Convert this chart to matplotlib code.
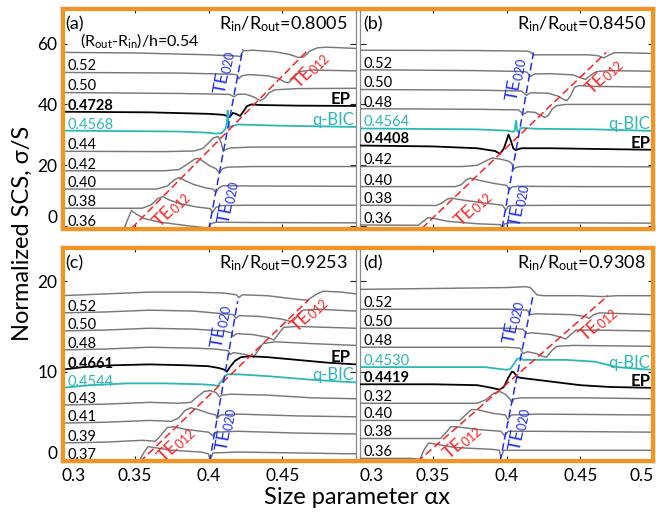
## Normalized SCS of stacked resonators, four panels (a)-(d)
import matplotlib
matplotlib.use('Agg')
import matplotlib.pyplot as plt
from matplotlib.patches import Rectangle
import numpy as np

plt.rcParams['font.family'] = ['Lato', 'DejaVu Sans']
plt.rcParams['mathtext.default'] = 'regular'

## ---------------- data ----------------
x_ticks = [0.3, 0.35, 0.4, 0.45, 0.5]
x_ticklabels_c = ['0.3', '0.35', '0.4', '0.45', '']
x_ticklabels_d = ['0.3', '0.35', '0.4', '0.45', '0.5']
y_ticks_top = [0, 20, 40, 60]
y_ticks_bottom = [0, 10, 20]

a_ratio = '0.8005'
a_note = r'(R$_{out}$-R$_{in}$)/h=0.54'
a_labels = [None, '0.52', '0.50', '0.4728', '0.4568', '0.44', '0.42', '0.40', '0.38', '0.36']
a_ep, a_bic = '0.4728', '0.4568'
a_curves = [
    [(0.300, 57.1), (0.350, 56.9), (0.400, 56.3), (0.419, 55.9), (0.4215, 55.7), (0.4235, 57.6), (0.430, 57.8), (0.445, 57.3), (0.455, 56.4), (0.461, 55.4), (0.4645, 55.6), (0.469, 57.6), (0.474, 58.6), (0.480, 58.8), (0.500, 58.4)],
    [(0.300, 50.5), (0.380, 50.3), (0.417, 49.9), (0.4195, 49.6), (0.4205, 48.4), (0.4225, 49.4), (0.428, 49.8), (0.440, 49.4), (0.447, 48.6), (0.452, 47.3), (0.4545, 47.2), (0.458, 49.0), (0.462, 50.8), (0.470, 51.3), (0.500, 51.0)],
    [(0.300, 43.9), (0.380, 43.6), (0.414, 43.3), (0.4175, 42.5), (0.4195, 43.3), (0.425, 43.4), (0.431, 42.4), (0.435, 41.2), (0.438, 42.0), (0.441, 43.8), (0.445, 44.8), (0.460, 45.2), (0.500, 45.3)],
    [(0.300, 37.6), (0.360, 37.4), (0.400, 36.9), (0.410, 36.6), (0.4145, 35.9), (0.4165, 37.2), (0.4185, 36.9), (0.4215, 36.2), (0.4235, 37.6), (0.426, 39.4), (0.429, 40.0), (0.435, 39.8), (0.460, 39.6), (0.500, 39.5)],
    [(0.300, 31.4), (0.380, 31.1), (0.400, 30.7), (0.405, 30.4), (0.409, 30.6), (0.4115, 32.0), (0.4125, 34.0), (0.4130, 38.0), (0.4135, 34.5), (0.4140, 32.6), (0.416, 32.9), (0.420, 33.4), (0.450, 33.0), (0.500, 32.6)],
    [(0.300, 24.6), (0.370, 24.5), (0.390, 24.7), (0.396, 25.5), (0.400, 27.3), (0.403, 28.9), (0.4065, 29.5), (0.4085, 27.5), (0.4100, 24.6), (0.4115, 25.2), (0.415, 25.7), (0.430, 26.0), (0.500, 26.0)],
    [(0.300, 18.2), (0.370, 18.2), (0.380, 18.6), (0.386, 20.5), (0.3905, 22.0), (0.393, 22.3), (0.397, 21.1), (0.401, 19.8), (0.405, 18.9), (0.4075, 17.5), (0.4095, 18.9), (0.413, 19.4), (0.430, 19.6), (0.500, 19.6)],
    [(0.300, 12.2), (0.365, 12.2), (0.372, 13.2), (0.377, 15.3), (0.380, 16.0), (0.384, 15.0), (0.390, 13.7), (0.398, 12.6), (0.403, 12.2), (0.405, 11.1), (0.407, 12.6), (0.410, 13.3), (0.430, 13.2), (0.500, 13.1)],
    [(0.300, 5.9), (0.355, 5.9), (0.361, 7.0), (0.366, 9.2), (0.369, 9.7), (0.374, 8.5), (0.381, 7.4), (0.392, 6.3), (0.401, 5.8), (0.403, 4.6), (0.405, 6.2), (0.409, 6.8), (0.430, 6.9), (0.500, 6.9)],
    [(0.300, -0.5), (0.340, -0.6), (0.3425, -1.3), (0.345, 2.0), (0.3478, 5.1), (0.351, 4.0), (0.356, 2.6), (0.366, 1.4), (0.385, 0.2), (0.398, -0.5), (0.400, -2.0), (0.4015, 0.8), (0.405, 1.3), (0.430, 1.2), (0.500, 1.1)],
]
a_te012 = [(0.3478, -0.7), (0.4682, 58.2)]
a_te020 = [(0.4001, -1.25), (0.4232, 58.2)]

b_ratio = '0.8450'
b_labels = [None, '0.52', '0.50', '0.48', '0.4564', '0.4408', '0.42', '0.40', '0.38', '0.36']
b_ep, b_bic = '0.4408', '0.4564'
b_curves = [
    [(0.300, 57.8), (0.380, 57.7), (0.414, 57.5), (0.416, 57.2), (0.4185, 56.2), (0.422, 56.3), (0.455, 56.3), (0.462, 56.0), (0.466, 55.3), (0.4695, 56.2), (0.473, 57.0), (0.480, 57.0), (0.500, 56.7)],
    [(0.300, 51.4), (0.380, 51.1), (0.412, 50.8), (0.414, 50.5), (0.416, 49.2), (0.419, 50.0), (0.430, 50.1), (0.445, 49.7), (0.450, 48.8), (0.4535, 48.2), (0.457, 49.6), (0.461, 50.8), (0.470, 51.1), (0.500, 50.9)],
    [(0.300, 44.9), (0.380, 44.7), (0.410, 44.4), (0.4135, 43.0), (0.416, 43.8), (0.428, 43.7), (0.435, 42.7), (0.439, 41.5), (0.441, 41.3), (0.4435, 43.0), (0.446, 45.6), (0.449, 46.2), (0.460, 45.9), (0.500, 45.7)],
    [(0.300, 38.6), (0.380, 38.4), (0.408, 38.2), (0.4113, 36.8), (0.414, 37.6), (0.419, 37.4), (0.423, 36.4), (0.426, 35.7), (0.4285, 36.6), (0.431, 38.6), (0.434, 39.6), (0.440, 40.0), (0.500, 40.0)],
    [(0.300, 32.1), (0.380, 31.8), (0.400, 31.4), (0.4045, 31.0), (0.4055, 31.6), (0.4063, 34.7), (0.4071, 31.2), (0.408, 31.0), (0.4095, 32.2), (0.411, 32.3), (0.420, 32.0), (0.460, 31.8), (0.500, 31.3)],
    [(0.300, 26.5), (0.350, 26.2), (0.380, 25.6), (0.392, 24.7), (0.3955, 23.8), (0.398, 25.5), (0.4005, 29.0), (0.4012, 30.1), (0.4025, 28.5), (0.4045, 25.5), (0.406, 25.0), (0.410, 25.6), (0.430, 25.6), (0.470, 25.3), (0.500, 25.1)],
    [(0.300, 19.6), (0.370, 19.6), (0.380, 20.0), (0.3865, 21.6), (0.390, 22.4), (0.396, 22.0), (0.401, 21.4), (0.4035, 20.6), (0.4045, 18.5), (0.406, 19.3), (0.410, 19.6), (0.440, 19.6), (0.500, 19.5)],
    [(0.300, 13.0), (0.365, 13.0), (0.369, 13.6), (0.3725, 15.2), (0.375, 15.8), (0.382, 15.0), (0.392, 14.0), (0.400, 13.4), (0.4018, 11.9), (0.4035, 12.9), (0.408, 13.1), (0.450, 13.0), (0.500, 13.0)],
    [(0.300, 6.9), (0.352, 6.8), (0.356, 7.6), (0.3595, 8.9), (0.3625, 9.2), (0.370, 8.6), (0.385, 7.6), (0.397, 6.9), (0.3995, 5.3), (0.401, 6.6), (0.405, 6.8), (0.450, 6.9), (0.500, 6.9)],
    [(0.300, 0.4), (0.340, 0.3), (0.343, 1.5), (0.3465, 2.8), (0.350, 2.6), (0.360, 1.6), (0.380, 0.8), (0.396, 0.5), (0.397, -1.2), (0.3985, 0.8), (0.402, 1.1), (0.450, 1.1), (0.500, 1.0)],
]
b_te012 = [(0.3424, -0.7), (0.4676, 57.1)]
b_te020 = [(0.3968, -0.7), (0.4182, 57.1)]

c_ratio = '0.9253'
c_labels = [None, '0.52', '0.50', '0.48', '0.4661', '0.4544', '0.43', '0.41', '0.39', '0.37']
c_ep, c_bic = '0.4661', '0.4544'
c_curves = [
    [(0.300, 18.4), (0.330, 18.6), (0.360, 18.8), (0.390, 18.8), (0.410, 18.7), (0.419, 18.5), (0.4205, 18.2), (0.423, 18.5), (0.440, 18.4), (0.460, 18.0), (0.467, 17.9), (0.4735, 18.6), (0.478, 18.9), (0.490, 18.8), (0.500, 18.6)],
    [(0.300, 16.5), (0.330, 16.6), (0.360, 16.8), (0.390, 16.7), (0.410, 16.4), (0.417, 16.3), (0.4185, 15.9), (0.421, 16.2), (0.435, 16.1), (0.450, 15.8), (0.457, 15.5), (0.4605, 16.2), (0.464, 16.8), (0.475, 16.9), (0.500, 16.7)],
    [(0.300, 14.5), (0.330, 14.6), (0.360, 14.8), (0.390, 14.7), (0.410, 14.5), (0.4155, 14.3), (0.4165, 13.9), (0.419, 14.2), (0.430, 14.1), (0.440, 13.8), (0.4445, 13.5), (0.4475, 14.2), (0.451, 14.9), (0.460, 15.0), (0.500, 14.8)],
    [(0.300, 12.4), (0.330, 12.5), (0.360, 12.7), (0.390, 12.6), (0.405, 12.5), (0.4135, 12.3), (0.4145, 11.9), (0.417, 12.1), (0.425, 11.9), (0.4305, 11.6), (0.4335, 12.3), (0.437, 13.1), (0.445, 13.3), (0.470, 13.1), (0.500, 12.9)],
    [(0.300, 10.2), (0.315, 10.5), (0.335, 10.7), (0.360, 10.8), (0.385, 10.7), (0.400, 10.6), (0.407, 10.4), (0.411, 10.2), (0.4125, 10.0), (0.4145, 10.5), (0.418, 11.2), (0.422, 11.6), (0.428, 11.7), (0.440, 11.6), (0.460, 11.3), (0.480, 11.0), (0.500, 10.8)],
    [(0.300, 8.2), (0.320, 8.5), (0.345, 8.7), (0.370, 8.7), (0.395, 8.6), (0.404, 8.5), (0.406, 8.4), (0.409, 9.0), (0.4125, 9.7), (0.414, 9.7), (0.420, 9.7), (0.440, 9.5), (0.470, 9.1), (0.500, 8.8)],
    [(0.300, 6.3), (0.330, 6.4), (0.360, 6.6), (0.380, 6.5), (0.388, 6.6), (0.393, 7.3), (0.397, 7.8), (0.401, 7.9), (0.405, 7.7), (0.4075, 7.2), (0.409, 7.4), (0.415, 7.5), (0.440, 7.4), (0.470, 7.1), (0.500, 7.0)],
    [(0.300, 4.3), (0.330, 4.4), (0.360, 4.6), (0.375, 4.5), (0.380, 4.9), (0.384, 5.7), (0.388, 6.0), (0.393, 5.8), (0.400, 5.4), (0.405, 5.2), (0.4058, 4.8), (0.408, 5.2), (0.420, 5.3), (0.460, 5.1), (0.500, 5.0)],
    [(0.300, 2.1), (0.330, 2.2), (0.355, 2.4), (0.364, 2.3), (0.368, 3.0), (0.372, 3.8), (0.376, 3.9), (0.385, 3.6), (0.400, 3.3), (0.403, 2.9), (0.405, 3.3), (0.420, 3.4), (0.460, 3.2), (0.500, 3.1)],
    [(0.300, 0.1), (0.330, 0.2), (0.350, 0.2), (0.353, 0.1), (0.356, 1.0), (0.359, 1.7), (0.363, 1.6), (0.375, 1.3), (0.395, 1.1), (0.400, 0.9), (0.401, 0.2), (0.403, 1.0), (0.420, 1.1), (0.460, 1.0), (0.500, 0.9)],
]
c_te012 = [(0.3534, 0.0), (0.4682, 18.0)]
c_te020 = [(0.4007, 0.0), (0.4198, 17.8)]

d_ratio = '0.9308'
d_labels = [None, '0.52', '0.50', '0.48', '0.4530', '0.4419', '0.32', '0.40', '0.38', '0.36']
d_ep, d_bic = '0.4419', '0.4530'
d_curves = [
    [(0.300, 19.1), (0.350, 19.2), (0.400, 19.3), (0.413, 19.4), (0.416, 19.3), (0.4205, 18.5), (0.425, 18.4), (0.450, 18.4), (0.465, 18.3), (0.475, 18.4), (0.500, 18.4)],
    [(0.300, 16.9), (0.350, 16.9), (0.400, 16.9), (0.414, 16.8), (0.4160, 16.3), (0.420, 16.4), (0.445, 16.3), (0.453, 16.1), (0.456, 15.9), (0.459, 16.3), (0.463, 16.5), (0.500, 16.3)],
    [(0.300, 14.8), (0.350, 14.8), (0.400, 14.8), (0.411, 14.7), (0.4135, 14.2), (0.417, 14.3), (0.430, 14.1), (0.437, 13.8), (0.440, 13.6), (0.4435, 14.1), (0.447, 14.6), (0.455, 14.6), (0.500, 14.5)],
    [(0.300, 12.7), (0.350, 12.7), (0.400, 12.7), (0.409, 12.6), (0.411, 12.0), (0.414, 12.2), (0.420, 12.0), (0.424, 11.7), (0.427, 11.6), (0.4305, 12.3), (0.434, 12.8), (0.445, 12.9), (0.500, 12.8)],
    [(0.300, 10.5), (0.350, 10.5), (0.385, 10.5), (0.395, 10.3), (0.400, 10.2), (0.4025, 10.3), (0.405, 10.9), (0.407, 11.4), (0.409, 11.5), (0.411, 11.3), (0.420, 11.3), (0.440, 11.3), (0.460, 11.1), (0.475, 10.5), (0.490, 10.3), (0.500, 10.2)],
    [(0.300, 8.6), (0.350, 8.6), (0.380, 8.5), (0.390, 8.2), (0.395, 8.0), (0.398, 8.3), (0.401, 9.3), (0.4035, 10.0), (0.405, 9.9), (0.407, 9.4), (0.410, 9.3), (0.420, 9.1), (0.435, 8.8), (0.450, 8.5), (0.470, 8.3), (0.500, 8.2)],
    [(0.300, 6.5), (0.350, 6.5), (0.380, 6.5), (0.386, 6.9), (0.391, 7.6), (0.395, 7.8), (0.399, 7.5), (0.402, 7.0), (0.4035, 6.6), (0.405, 7.0), (0.410, 7.1), (0.450, 7.1), (0.500, 7.0)],
    [(0.300, 4.6), (0.350, 4.6), (0.368, 4.6), (0.372, 5.2), (0.376, 5.8), (0.380, 5.8), (0.390, 5.4), (0.399, 5.2), (0.4008, 4.7), (0.403, 5.2), (0.420, 5.3), (0.500, 5.2)],
    [(0.300, 2.6), (0.340, 2.6), (0.355, 2.6), (0.359, 3.3), (0.362, 3.9), (0.366, 3.9), (0.380, 3.6), (0.396, 3.4), (0.3985, 2.9), (0.401, 3.4), (0.420, 3.4), (0.500, 3.3)],
    [(0.300, 0.4), (0.335, 0.4), (0.341, 0.3), (0.344, 1.4), (0.347, 2.1), (0.351, 2.0), (0.365, 1.6), (0.390, 1.4), (0.395, 1.3), (0.396, 0.5), (0.398, 1.3), (0.420, 1.3), (0.500, 1.3)],
]
d_te012 = [(0.3391, 0.0), (0.4687, 18.4)]
d_te020 = [(0.3954, 0.0), (0.4178, 18.4)]

## ---------------- styling ----------------
ORANGE = '#f39422'
CYAN = '#2bb8b4'
GRAY = '#787878'
RED = '#ff2020'
BLUE = '#1f2ff0'

W, H = 656, 512
fig = plt.figure(figsize=(W / 100, H / 100), dpi=100)

def px_axes(l, t, r, b):
    return fig.add_axes([l / W, 1 - b / H, (r - l) / W, (b - t) / H])

ax_a = px_axes(61, 7, 356, 230)
ax_b = px_axes(359.5, 7, 654, 230)
ax_c = px_axes(61, 246, 356, 462)
ax_d = px_axes(359.5, 246, 654, 462)

## orange frames around each row of panels
for (l, t, r, b) in [(61, 7, 654, 230), (61, 246, 654, 462)]:
    fig.add_artist(Rectangle(((l + 1.5) / W, 1 - (b - 1.5) / H), (r - l - 3) / W, (b - t - 3) / H,
                             transform=fig.transFigure, fill=False, ec=ORANGE, lw=3.0, zorder=10))

def line_angle(ax, p0, p1):
    (x0, y0), (x1, y1) = ax.transData.transform([p0, p1])
    return np.degrees(np.arctan2(y1 - y0, x1 - x0))

def draw_panel(ax, tag, ratio, labels, curves, ep, bic, te012, te020, ylim, yticks,
               lab_x, ep_x, bic_x, te012_pos, te020_pos):
    ax.set_xlim(0.3, 0.5)
    ax.set_ylim(*ylim)
    ax.set_xticks(x_ticks)
    ax.set_yticks(yticks)
    ax.tick_params(direction='in', top=True, right=True, length=4.5, width=0.8,
                   labelsize=12.5, pad=2.5, colors='#222222', labelcolor='black')
    for s in ax.spines.values():
        s.set_color('#8a8a8a')
        s.set_linewidth(0.9)
    for lab, pts in zip(labels, curves):
        xs, ys = zip(*pts)
        if lab == ep:
            col, tcol, lw, fw = 'black', 'black', 1.3, 'bold'
        elif lab == bic:
            col, tcol, lw, fw = CYAN, CYAN, 1.3, 'normal'
        else:
            col, tcol, lw, fw = GRAY, 'black', 1.05, 'normal'
        ax.plot(xs, ys, color=col, lw=lw, zorder=3)
        if lab is not None:
            ax.annotate(lab, (lab_x, ys[0]), xytext=(0, 1.5), textcoords='offset points',
                        va='baseline', ha='left', fontsize=10.5, color=tcol, fontweight=fw)
        if lab == ep:
            ax.annotate('EP', (ep_x, ys[-1]), xytext=(0, 1.5), textcoords='offset points',
                        va='baseline', ha='right', fontsize=12, fontweight='bold')
        if lab == bic:
            ax.annotate('q-BIC', (bic_x, ys[-1]), xytext=(0, 1.5), textcoords='offset points',
                        va='baseline', ha='right', fontsize=12, color=CYAN)
    ## mode lines
    for pts, col, txt, spots in [(te012, RED, r'TE$_{012}$', te012_pos),
                                 (te020, BLUE, r'TE$_{020}$', te020_pos)]:
        xs, ys = zip(*pts)
        ax.plot(xs, ys, color=col, lw=1.1, ls=(0, (5, 2.5)), zorder=4)
        ang = line_angle(ax, pts[0], pts[1])
        for (tx, ty) in spots:
            ax.text(tx, ty, txt, color=col, fontsize=13, rotation=ang,
                    rotation_mode='anchor', ha='center', va='center', zorder=5)
    ax.annotate(tag, (0, 1), xycoords='axes fraction', xytext=(3, -16),
                textcoords='offset points', fontsize=13, va='baseline', ha='left')
    ax.annotate(r'R$_{in}$/R$_{out}$=' + ratio, (1, 1), xycoords='axes fraction',
                xytext=(-6, -16), textcoords='offset points', fontsize=13,
                va='baseline', ha='right')

draw_panel(ax_a, '(a)', a_ratio, a_labels, a_curves, a_ep, a_bic, a_te012, a_te020,
           (-1.25, 72.0), y_ticks_top, 0.3045, 0.4965, 0.4985,
           [(0.3753, 5.5), (0.4693, 51.3)], [(0.4135, 7.8), (0.4108, 50.5)])
draw_panel(ax_b, '(b)', b_ratio, b_labels, b_curves, b_ep, b_bic, b_te012, b_te020,
           (-1.25, 72.0), y_ticks_top, 0.3025, 0.4975, 0.4975,
           [(0.3773, 5.7), (0.4664, 49.1)], [(0.4088, 6.8), (0.4066, 48.2)])
draw_panel(ax_c, '(c)', c_ratio, c_labels, c_curves, c_ep, c_bic, c_te012, c_te020,
           (0.0, 23.9), y_ticks_bottom, 0.3045, 0.4965, 0.4985,
           [(0.3782, 1.9), (0.4682, 16.3)], [(0.4120, 3.6), (0.4086, 15.0)])
draw_panel(ax_d, '(d)', d_ratio, d_labels, d_curves, d_ep, d_bic, d_te012, d_te020,
           (0.0, 23.9), y_ticks_bottom, 0.3025, 0.4975, 0.4975,
           [(0.3695, 2.2), (0.4622, 15.3)], [(0.4085, 3.6), (0.4047, 15.5)])

ax_a.annotate(a_note, (0, 1), xycoords='axes fraction', xytext=(14, -28),
              textcoords='offset points', fontsize=11.5, va='baseline', ha='left')

## tick labels only on the outer edges
for ax in (ax_a, ax_b):
    ax.tick_params(labelbottom=False)
for ax in (ax_b, ax_d):
    ax.tick_params(labelleft=False)
ax_c.set_xticklabels(x_ticklabels_c)
ax_d.set_xticklabels(x_ticklabels_d)
for ax in (ax_c, ax_d):
    ax.tick_params(axis='x', pad=4)
    tl = ax.get_xticklabels()
    tl[0].set_ha('left')
    tl[-1].set_ha('right')
for ax, ticks in ((ax_a, y_ticks_top), (ax_c, y_ticks_bottom)):
    ax.set_yticklabels([str(t) for t in ticks])
    ax.get_yticklabels()[0].set_va('bottom')

fig.text(22 / W, 1 - 233 / H, 'Normalized SCS, σ/S', rotation=90, ha='center', va='center', fontsize=17)
fig.text(357 / W, 1 - 497 / H, 'Size parameter αx', ha='center', va='center', fontsize=17)

fig.savefig('out.png', dpi=100)
